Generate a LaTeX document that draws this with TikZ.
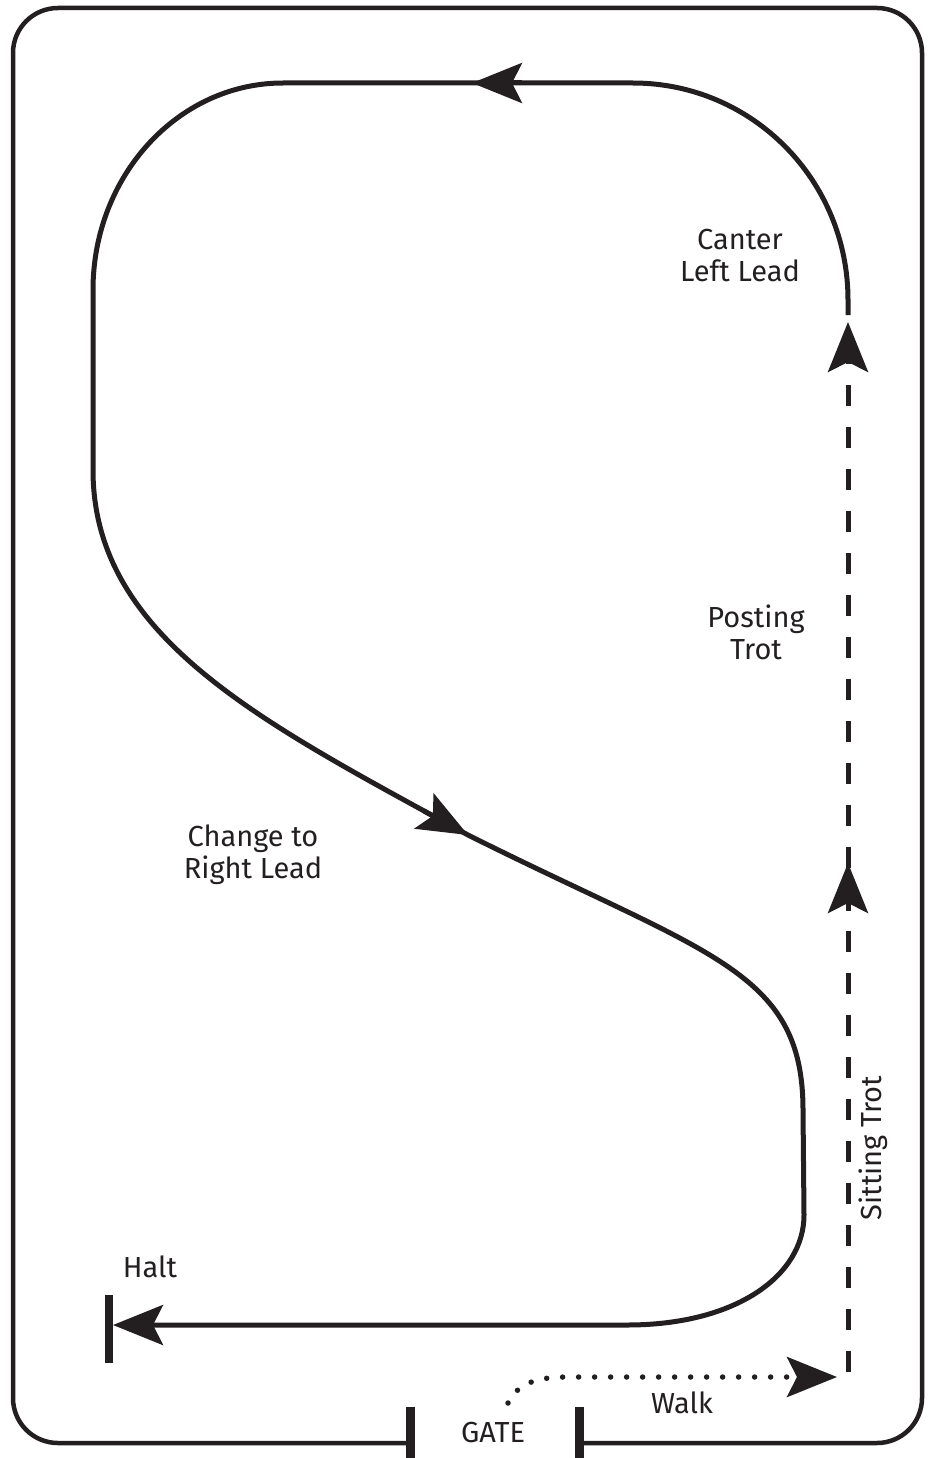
\documentclass[tikz,border=0pt]{standalone}
\usepackage{fontspec}
\setmainfont{Fira Sans}
\usetikzlibrary{arrows.meta}
\definecolor{ink}{HTML}{231F20}
\begin{document}
\begin{tikzpicture}[x=1pt,y=-1pt,
  track/.style={draw=ink, line width=5pt},
  head/.style={-{Stealth[length=50pt,width=40pt,inset=10pt]}},
  dashline/.style={draw=ink, line width=5pt, dash pattern=on 21pt off 21pt},
  dotline/.style={draw=ink, line width=5.5pt, line cap=round, dash pattern=on 0pt off 16pt},
  post/.style={draw=ink, line width=9pt},
  lbl/.style={text=ink, font=\fontsize{29}{32}\selectfont, align=center, inner sep=0pt},
]
\useasboundingbox (0,0) rectangle (927,1458);
% arena border with gate
\draw[draw=ink, line width=4.5pt, rounded corners=45pt] (410,1443) -| (13,8) -| (922,1443) -- (578,1443);
\coordinate (gateL) at (410,1407);
\coordinate (gateLb) at (410,1458);
\coordinate (gateR) at (579,1407);
\coordinate (gateRb) at (579,1458);
\draw[post] (gateL) -- (gateLb);
\draw[post] (gateR) -- (gateRb);

% key points
\coordinate (canterStart) at (848,315);
\coordinate (topArrowBack) at (522,83);
\coordinate (topArrow) at (472,83);
\coordinate (diagArrowBack) at (424,811);
\coordinate (diagArrow) at (468,835);
\coordinate (haltTip) at (113,1325);
\coordinate (haltTop) at (109,1295);
\coordinate (haltBot) at (109,1363);
\coordinate (trotStart) at (848,1372);
\coordinate (trotMidBack) at (848,911);
\coordinate (trotMid) at (848,863);
\coordinate (trotEnd) at (848,322);
\coordinate (walkStart) at (508,1403);
\coordinate (walkEnd) at (837,1377);

% main track (one continuous line)
\draw[track, head] (canterStart) -- (848,300) .. controls (848,180) and (752,83) .. (633,83)
  -- (283,83) .. controls (178,83) and (93,176) .. (93,290) -- (93,470)
  .. controls (93,640) and (268,725) .. (diagArrow)
  .. controls (708,955) and (803,970) .. (803,1110) -- (804,1215)
  .. controls (804,1275) and (737,1325) .. (627,1325) -- (haltTip);
% direction arrowheads along the track
\draw[track, head] (topArrowBack) -- (topArrow);
\draw[track, head] (diagArrowBack) -- (diagArrow);
\draw[draw=ink, line width=8pt] (haltTop) -- (haltBot);

% trot (dashed)
\draw[dashline, head] (trotStart) -- (trotEnd);
\draw[track, head] (trotMidBack) -- (trotMid);

% walk (dotted)
\draw[dotline, head] (walkStart) .. controls (518,1382) and (540,1377) .. (567,1377) -- (walkEnd);

% labels
\node[lbl] (canter) at (740,256) {Canter\\Left Lead};
\node[lbl] (posting) at (756,632) {Posting\\Trot};
\node[lbl] (change) at (253,855) {Change to\\Right Lead};
\node[lbl, anchor=base] (halt) at (150,1277) {Halt};
\node[lbl, anchor=base] (walk) at (682,1413) {Walk};
\node[lbl, anchor=base] (gate) at (493,1442) {GATE};
\node[lbl, rotate=90] (sitting) at (873,1148) {Sitting Trot};
\end{tikzpicture}
\end{document}
